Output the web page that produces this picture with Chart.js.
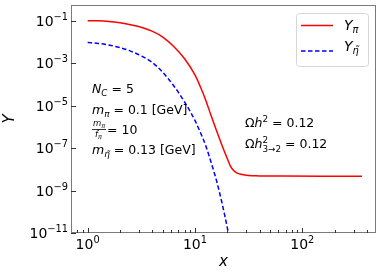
<!DOCTYPE html>
<html>
<head>
<meta charset="utf-8">
<script src="https://cdn.jsdelivr.net/npm/chart.js@4.4.1/dist/chart.umd.min.js"></script>
<style>
  body { margin: 0; background: #fff; }
  canvas { display: block; }
</style>
</head>
<body>
<canvas id="yieldChart" width="382" height="276"></canvas>
<script>
// Y_pi (red, solid)
const xPi = [1, 1.26, 1.58, 2.0, 2.51, 3.16, 3.98, 5.01, 6.31, 7.94, 10, 11.2, 12.6, 14.1, 15.8, 17.8, 20.0, 21.4, 22.9, 24.5, 26.9, 31.6, 39.8, 63.1, 158, 360];
const yPi = [1.0e-1, 9.8e-2, 9.1e-2, 7.9e-2, 6.5e-2, 4.9e-2, 3.2e-2, 1.7e-2, 6.3e-3, 1.7e-3, 2.8e-4, 7.9e-5, 1.8e-5, 3.5e-6, 7.1e-7, 1.4e-7, 3.2e-8, 1.4e-8, 8.7e-9, 6.8e-9, 5.8e-9, 5.1e-9, 4.9e-9, 4.8e-9, 4.7e-9, 4.7e-9];

// Y_eta~ (blue, dashed)
const xEta = [1, 1.26, 1.58, 2.0, 2.51, 3.16, 3.98, 5.01, 6.31, 7.94, 10, 11.2, 12.6, 14.1, 15.8, 17.8, 20.0, 21.4];
const yEta = [9.3e-3, 8.5e-3, 7.1e-3, 5.4e-3, 3.7e-3, 2.2e-3, 1.1e-3, 3.7e-4, 8.9e-5, 1.6e-5, 2.0e-6, 5.6e-7, 1.3e-7, 2.2e-8, 3.2e-9, 2.8e-10, 1.8e-11, 3.2e-12];

// tick positions
const xMajorTicks = [1, 10, 100];
const xMinorTicks = [0.8, 0.9, 2, 3, 4, 5, 6, 7, 8, 9, 20, 30, 40, 50, 60, 70, 80, 90, 200, 300, 400];
const yMajorTicks = [1e-11, 1e-9, 1e-7, 1e-5, 1e-3, 1e-1];

const FONT = '"DejaVu Sans", sans-serif';
const SPINE = '#7a7a7a';

function fontOf(size, it) {
    return (it ? 'oblique ' : '') + size + 'px ' + FONT;
}

// runs: [text, size, italic, dy, noAdvance]
function drawRuns(ctx, x, y, runs, align) {
    let total = 0;
    runs.forEach(r => {
        ctx.font = fontOf(r[1], r[2]);
        r.w = ctx.measureText(r[0]).width;
        if (!r[4]) total += r.w;
    });
    let cx = x;
    if (align === 'right') cx = x - total;
    if (align === 'center') cx = x - total / 2;
    ctx.textAlign = 'left';
    ctx.textBaseline = 'alphabetic';
    runs.forEach(r => {
        ctx.font = fontOf(r[1], r[2]);
        ctx.fillText(r[0], cx, y + (r[3] || 0));
        if (!r[4]) cx += r.w;
    });
    return total;
}

function expLabel(v) {
    const e = Math.round(Math.log10(v));
    return String(e).replace('-', '\u2212');
}

const annotations = {
    id: 'annotations',
    afterDraw(chart) {
        const ctx = chart.ctx;
        const a = chart.chartArea;
        const xs = chart.scales.x;
        const ys = chart.scales.y;
        ctx.save();

        // spines
        ctx.strokeStyle = SPINE;
        ctx.lineWidth = 1;
        ctx.strokeRect(a.left + 0.5, a.top + 0.5, a.right - a.left - 1, a.bottom - a.top - 1);

        // ticks (inward)
        ctx.strokeStyle = '#333';
        ctx.beginPath();
        xMajorTicks.forEach(v => {
            const p = Math.round(xs.getPixelForValue(v)) + 0.5;
            ctx.moveTo(p, a.bottom); ctx.lineTo(p, a.bottom - 5);
        });
        xMinorTicks.forEach(v => {
            const p = Math.round(xs.getPixelForValue(v)) + 0.5;
            ctx.moveTo(p, a.bottom); ctx.lineTo(p, a.bottom - 3);
        });
        yMajorTicks.forEach(v => {
            const p = Math.round(ys.getPixelForValue(v)) + 0.5;
            ctx.moveTo(a.left, p); ctx.lineTo(a.left + 5, p);
        });
        ctx.stroke();

        // tick labels
        ctx.fillStyle = '#000';
        xMajorTicks.forEach(v => {
            const p = xs.getPixelForValue(v);
            drawRuns(ctx, p, a.bottom + 16, [['10', 14, false, 0], [expLabel(v), 9.8, false, -6]], 'center');
        });
        yMajorTicks.forEach(v => {
            const p = ys.getPixelForValue(v);
            drawRuns(ctx, a.left - 3, p + 5, [['10', 14, false, 0], [expLabel(v), 9.8, false, -6]], 'right');
        });

        // axis titles
        drawRuns(ctx, (a.left + a.right) / 2, 266, [['x', 15, true, 0]], 'center');
        ctx.save();
        ctx.translate(14, (a.top + a.bottom) / 2);
        ctx.rotate(-Math.PI / 2);
        drawRuns(ctx, 0, 0, [['Y', 15, true, 0]], 'center');
        ctx.restore();

        // parameter text (left block)
        const fs = 12.5, sub = 8.8;
        drawRuns(ctx, 92, 93, [['N', fs, true], ['C', sub, true, 3], [' = 5', fs, false]]);
        drawRuns(ctx, 92, 113.5, [['m', fs, true], ['\u03c0', sub, true, 3], [' = 0.1 [GeV]', fs, false]]);
        // fraction m_pi / f_pi
        drawRuns(ctx, 93, 126, [['m', 8.5, true], ['\u03c0', 6.5, true, 2]]);
        ctx.fillRect(92, 129, 14, 0.8);
        drawRuns(ctx, 95, 137, [['f', 8.5, true], ['\u03c0', 6.5, true, 2]]);
        drawRuns(ctx, 107, 133.5, [['= 10', fs, false]]);
        drawRuns(ctx, 92, 153.5, [['m', fs, true], ['\u03b7\u0303', sub, true, 3], [' = 0.13 [GeV]', fs, false]]);

        // relic density text (right block)
        drawRuns(ctx, 245, 127, [['\u03a9', fs, false], ['h', fs, true], ['2', sub, false, -5], [' = 0.12', fs, false]]);
        drawRuns(ctx, 245, 148, [['\u03a9', fs, false], ['h', fs, true], ['2', sub, false, -5, true], ['3\u21922', sub, false, 3.5], [' = 0.12', fs, false]]);

        // legend
        ctx.fillStyle = 'rgba(255,255,255,0.8)';
        ctx.strokeStyle = '#d6d6d6';
        ctx.beginPath();
        ctx.roundRect(296.5, 13.5, 72, 53, 3);
        ctx.fill();
        ctx.stroke();
        ctx.lineWidth = 1.5;
        ctx.strokeStyle = '#ff0000';
        ctx.beginPath(); ctx.moveTo(301, 25.5); ctx.lineTo(333, 25.5); ctx.stroke();
        ctx.strokeStyle = '#0000ff';
        ctx.setLineDash([4.5, 2.5]);
        ctx.beginPath(); ctx.moveTo(301, 51); ctx.lineTo(333, 51); ctx.stroke();
        ctx.setLineDash([]);
        ctx.fillStyle = '#000';
        drawRuns(ctx, 344, 29.5, [['Y', 14, true], ['\u03c0', 9.8, true, 3]]);
        drawRuns(ctx, 344, 51, [['Y', 14, true], ['\u03b7\u0303', 9.8, true, 3]]);

        ctx.restore();
    }
};

new Chart(document.getElementById('yieldChart'), {
    type: 'line',
    data: {
        datasets: [
            {
                label: 'Y_pi',
                data: xPi.map((x, i) => ({ x: x, y: yPi[i] })),
                borderColor: '#ff0000',
                borderWidth: 1.5,
                pointRadius: 0,
                cubicInterpolationMode: 'monotone',
                fill: false
            },
            {
                label: 'Y_eta',
                data: xEta.map((x, i) => ({ x: x, y: yEta[i] })),
                borderColor: '#0000ff',
                borderWidth: 1.5,
                borderDash: [4.5, 2.5],
                pointRadius: 0,
                cubicInterpolationMode: 'monotone',
                fill: false
            }
        ]
    },
    options: {
        responsive: false,
        animation: false,
        devicePixelRatio: 1,
        layout: { padding: { left: 0, right: 6, top: 5, bottom: 0 } },
        plugins: {
            legend: { display: false },
            tooltip: { enabled: false }
        },
        scales: {
            x: {
                type: 'logarithmic',
                min: 0.743,
                max: 486,
                ticks: { display: false },
                grid: { display: false },
                border: { display: false },
                afterFit(s) { s.height = 43; }
            },
            y: {
                type: 'logarithmic',
                min: 1e-11,
                max: 0.548,
                ticks: { display: false },
                grid: { display: false },
                border: { display: false },
                afterFit(s) { s.width = 71; }
            }
        }
    },
    plugins: [annotations]
});
</script>
</body>
</html>
